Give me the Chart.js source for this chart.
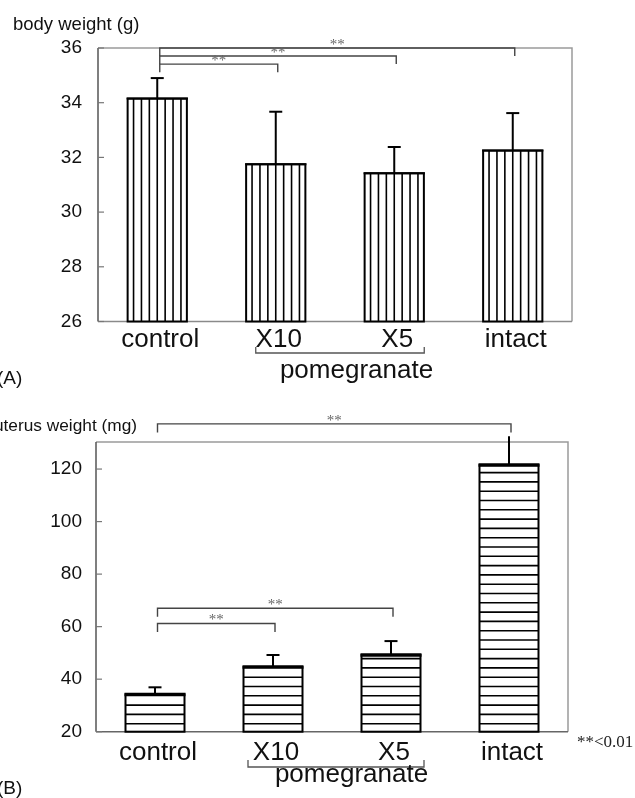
<!DOCTYPE html>
<html><head><meta charset="utf-8">
<script src="https://cdn.jsdelivr.net/npm/chart.js@4.4.1/dist/chart.umd.min.js"></script>
<style>
html,body{margin:0;padding:0;background:#fff;width:635px;height:798px;overflow:hidden}
#wa{position:absolute;left:0;top:0;width:635px;height:390px}
#wb{position:absolute;left:0;top:390px;width:635px;height:408px}
</style></head><body>
<div id="wa"><canvas id="ca"></canvas></div>
<div id="wb"><canvas id="cb"></canvas></div>
<script>
const categories = ['control', 'X10', 'X5', 'intact'];
const bodyWeight = [34.15, 31.75, 31.42, 32.25];
const bodyWeightErr = [0.75, 1.92, 0.96, 1.37];
const bodyTicks = [26, 28, 30, 32, 34, 36];
const uterusWeight = [34.2, 44.6, 49.2, 121.5];
const uterusWeightErr = [2.7, 4.6, 5.3, 11.0];
const uterusTicks = [20, 40, 60, 80, 100, 120];
const sigPairs = [[0, 3], [0, 2], [0, 1]];
const sigLevelsA = [36.0, 35.71, 35.41];
const sigLevelsB = [137.2, 67.0, 61.2];
const sigLabel = '**';
const groupLabel = 'pomegranate';
const groupMembers = [1, 2];
const titleA = 'body weight (g)';
const titleB = 'uterus weight (mg)';
const footnote = '**<0.01';

const SANS = '"Liberation Sans", Arial, Helvetica, sans-serif';
const SERIF = '"Liberation Serif", "Times New Roman", serif';

function panelPlugin(cfg) {
  return {
    id: 'panel' + cfg.id,
    beforeDatasetsDraw(chart) {
      const ctx = chart.ctx, a = chart.chartArea;
      ctx.save();
      ctx.lineWidth = 1.5;
      ctx.strokeStyle = '#9a9a9a';
      ctx.beginPath();
      ctx.moveTo(a.left, a.top); ctx.lineTo(a.right, a.top); ctx.lineTo(a.right, a.bottom);
      ctx.stroke();
      ctx.strokeStyle = cfg.bottomAxisColor;
      ctx.beginPath(); ctx.moveTo(a.left, a.bottom); ctx.lineTo(a.right, a.bottom); ctx.stroke();
      ctx.strokeStyle = '#555';
      ctx.beginPath(); ctx.moveTo(a.left, a.top); ctx.lineTo(a.left, a.bottom); ctx.stroke();
      // inner tick marks
      const ys = chart.scales.y;
      ctx.strokeStyle = '#777'; ctx.lineWidth = 1.2;
      cfg.ticks.forEach(v => {
        const py = ys.getPixelForValue(v);
        ctx.beginPath(); ctx.moveTo(a.left, py); ctx.lineTo(a.left + 6, py); ctx.stroke();
      });
      ctx.restore();
    },
    afterDatasetsDraw(chart) {
      const ctx = chart.ctx;
      const ys = chart.scales.y;
      const floor = ys.getPixelForValue(ys.min);
      const meta = chart.getDatasetMeta(0);
      ctx.save();
      meta.data.forEach((bar, i) => {
        const p = bar.getProps(['x', 'y', 'width'], true);
        const base = floor;
        const l = p.x - p.width / 2, w = p.width, top = p.y, h = base - p.y;
        ctx.save();
        ctx.beginPath(); ctx.rect(l, top, w, h); ctx.clip();
        ctx.strokeStyle = '#000'; ctx.lineWidth = 1.6;
        if (cfg.vertical) {
          for (let k = -3; k <= 3; k++) {
            const xx = p.x + k * 7.9;
            ctx.beginPath(); ctx.moveTo(xx, top); ctx.lineTo(xx, base); ctx.stroke();
          }
        } else {
          for (let yy = base - 8; yy > top + 3; yy -= 9.3) {
            ctx.beginPath(); ctx.moveTo(l, yy); ctx.lineTo(l + w, yy); ctx.stroke();
          }
        }
        ctx.restore();
        ctx.strokeStyle = '#000'; ctx.lineWidth = 2;
        ctx.strokeRect(l, top, w, h);
        ctx.lineWidth = cfg.topEdge;
        ctx.beginPath(); ctx.moveTo(l - 1, top); ctx.lineTo(l + w + 1, top); ctx.stroke();
        // error bar
        const ey = ys.getPixelForValue(cfg.values[i] + cfg.errs[i]);
        ctx.lineWidth = 2;
        ctx.beginPath(); ctx.moveTo(p.x, top); ctx.lineTo(p.x, ey); ctx.stroke();
        if (cfg.caps[i]) {
          ctx.beginPath(); ctx.moveTo(p.x - 6.5, ey); ctx.lineTo(p.x + 6.5, ey); ctx.stroke();
        }
      });
      ctx.restore();
    },
    afterDraw(chart) {
      const ctx = chart.ctx, a = chart.chartArea;
      const xs = chart.scales.x, ys = chart.scales.y;
      ctx.save();
      // significance brackets
      ctx.strokeStyle = '#444'; ctx.lineWidth = 1.4;
      ctx.fillStyle = '#666';
      ctx.font = '15px ' + SERIF;
      ctx.textAlign = 'center'; ctx.textBaseline = 'alphabetic';
      sigPairs.forEach((pr, j) => {
        const x1 = xs.getPixelForValue(pr[0]) + 2.5;
        const x2 = xs.getPixelForValue(pr[1]) + 2;
        const yy = ys.getPixelForValue(cfg.sig[j]);
        ctx.beginPath();
        ctx.moveTo(x1, yy + cfg.sigTick); ctx.lineTo(x1, yy); ctx.lineTo(x2, yy); ctx.lineTo(x2, yy + cfg.sigTick);
        ctx.stroke();
        ctx.fillText(sigLabel, (x1 + x2) / 2, yy + 1);
      });
      // group bracket
      const gl = xs.getPixelForValue(groupMembers[0]) + cfg.groupL;
      const gr = xs.getPixelForValue(groupMembers[1]) + cfg.groupR;
      ctx.strokeStyle = '#555'; ctx.lineWidth = 1.3;
      ctx.beginPath();
      ctx.moveTo(gl, cfg.groupY - cfg.groupTick); ctx.lineTo(gl, cfg.groupY);
      ctx.lineTo(gr, cfg.groupY); ctx.lineTo(gr, cfg.groupY - cfg.groupTick);
      ctx.stroke();
      ctx.fillStyle = '#111';
      ctx.font = '26px ' + SANS;
      ctx.textAlign = 'center';
      ctx.fillText(groupLabel, cfg.groupTextX, cfg.groupTextY);
      // axis title
      ctx.font = cfg.titleSize + 'px ' + SANS;
      ctx.textAlign = cfg.titleAlign;
      ctx.fillText(cfg.title, cfg.titleX, cfg.titleY);
      // panel letter
      ctx.textAlign = 'left';
      ctx.font = '19px ' + SANS;
      ctx.fillText(cfg.letter, -3, cfg.letterY);
      if (cfg.foot) {
        ctx.font = '17px ' + SERIF;
        ctx.fillStyle = '#222';
        ctx.fillText(cfg.foot, 577, cfg.footY);
      }
      ctx.restore();
    }
  };
}

function makeChart(id, cfg) {
  return new Chart(document.getElementById(id), {
    type: 'bar',
    data: {
      labels: categories,
      datasets: [{
        data: cfg.values,
        backgroundColor: '#fff',
        borderColor: '#000',
        borderWidth: 0,
        barPercentage: 0.5,
        categoryPercentage: 1.0
      }]
    },
    options: {
      responsive: true,
      maintainAspectRatio: false,
      animation: false,
      events: [],
      layout: { padding: cfg.padding },
      plugins: { legend: { display: false }, tooltip: { enabled: false }, title: { display: false } },
      scales: {
        x: {
          type: 'category',
          offset: true,
          grid: { display: false, drawTicks: false },
          border: { display: false },
          ticks: { color: '#111', font: { family: SANS, size: 26 }, padding: cfg.xPad, labelOffset: 3, maxRotation: 0, autoSkip: false },
          afterFit(s) { s.height = 40; s.paddingLeft = 0; s.paddingRight = 0; s.paddingTop = 0; s.paddingBottom = 0; }
        },
        y: {
          min: cfg.min, max: cfg.max,
          grid: { display: false, drawTicks: false },
          border: { display: false },
          afterBuildTicks(s) { s.ticks = cfg.ticks.map(v => ({ value: v })); },
          ticks: { color: '#111', font: { family: SANS, size: 19 }, padding: cfg.yPad },
          afterFit(s) { s.width = cfg.yWidth; s.paddingLeft = 0; s.paddingRight = 0; s.paddingTop = 0; s.paddingBottom = 0; }
        }
      }
    },
    plugins: [panelPlugin(cfg)]
  });
}

makeChart('ca', {
  id: 'A', values: bodyWeight, errs: bodyWeightErr, caps: [true, true, true, true],
  ticks: bodyTicks, min: 26, max: 36, sig: sigLevelsA, sigTick: 8,
  vertical: true, topEdge: 2, bottomAxisColor: '#8a8a8a',
  padding: { top: 48, right: 63, bottom: 28.5, left: 0 },
  yWidth: 98, yPad: 16, xPad: 3,
  groupL: -20, groupR: 30, groupY: 353, groupTick: 6, groupTextX: 356.5, groupTextY: 378,
  title: titleA, titleSize: 18.5, titleAlign: 'left', titleX: 13, titleY: 30,
  letter: '(A)', letterY: 384
});

makeChart('cb', {
  id: 'B', values: uterusWeight, errs: uterusWeightErr, caps: [true, true, true, false],
  ticks: uterusTicks, min: 20, max: 130.3, sig: sigLevelsB, sigTick: 8.5,
  vertical: false, topEdge: 3.5, bottomAxisColor: '#666',
  padding: { top: 52, right: 67, bottom: 26.3, left: 0 },
  yWidth: 96, yPad: 14, xPad: 6,
  groupL: -25, groupR: 33, groupY: 377, groupTick: 7, groupTextX: 351.5, groupTextY: 392,
  title: titleB, titleSize: 17.3, titleAlign: 'right', titleX: 137, titleY: 41,
  letter: '(B)', letterY: 404, foot: footnote, footY: 357
});
</script>
</body></html>
